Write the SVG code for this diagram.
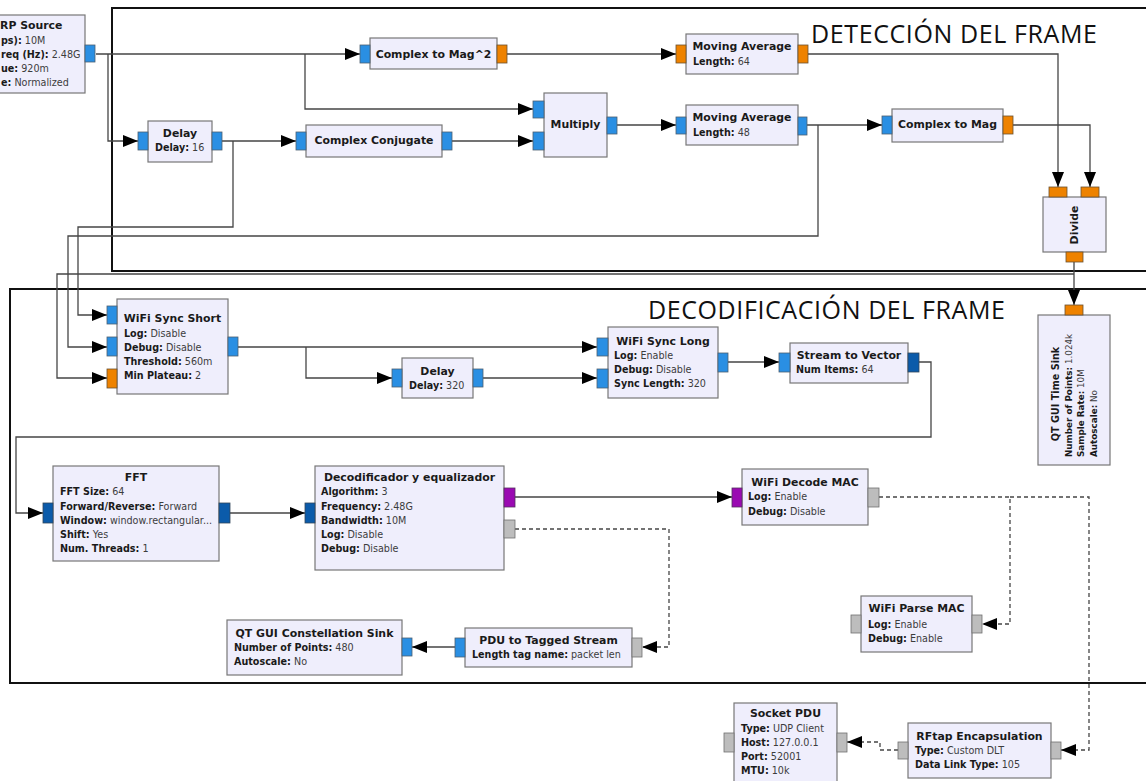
<svg xmlns="http://www.w3.org/2000/svg" width="1146" height="781" viewBox="0 0 1146 781">
<defs>
<style>
.blk{fill:#EFEEFC;stroke:#777;stroke-width:1.2}
.pc{fill:#2A8FE3;stroke:#4d5f70;stroke-width:0.8}
.pf{fill:#EE8200;stroke:#6a5030;stroke-width:0.8}
.pv{fill:#0B5BAA;stroke:#33475a;stroke-width:0.8}
.pb{fill:#9A0AB2;stroke:#553060;stroke-width:0.8}
.pm{fill:#BDBDBD;stroke:#707070;stroke-width:0.8}
.h{font-family:"DejaVu Sans","Liberation Sans",sans-serif;font-size:10.9px;font-weight:bold;fill:#1a1a1a}
.t{font-family:"DejaVu Sans","Liberation Sans",sans-serif;font-size:9.6px;fill:#3c3c3c}
.ts{font-family:"DejaVu Sans","Liberation Sans",sans-serif;font-size:8.8px;fill:#3c3c3c}
.b{font-weight:bold;fill:#1a1a1a}
.m{text-anchor:middle}
.w{fill:none;stroke:#454545;stroke-width:1.3}
.d{stroke-dasharray:4,3}
.frame{fill:none;stroke:#111;stroke-width:2}
.hdr{font-family:"Open Sans","Liberation Sans",sans-serif;font-size:25px;fill:#111}
</style>
<marker id="ar" markerWidth="16" markerHeight="12" refX="15" refY="6" orient="auto" markerUnits="userSpaceOnUse">
<path d="M0,0 L15,6 L0,12 z" fill="#000"/>
</marker>
</defs>
<rect width="1146" height="781" fill="#fff"/>

<g id="frames">
<rect class="frame" x="112" y="8" width="1100" height="263"/>
<rect class="frame" x="10" y="289" width="1200" height="394"/>
<text class="hdr" x="811" y="43" textLength="286" lengthAdjust="spacing">DETECCIÓN DEL FRAME</text>
<text class="hdr" x="648" y="319" textLength="357" lengthAdjust="spacing">DECODIFICACIÓN DEL FRAME</text>
</g>

<g id="connectors">
<path class="w" d="M96,54 H360" marker-end="url(#ar)"/>
<path class="w" d="M108,54 V141 H138" marker-end="url(#ar)"/>
<path class="w" d="M305,54 V109 H533" marker-end="url(#ar)"/>
<path class="w" d="M222,141 H296" marker-end="url(#ar)"/>
<path class="w" d="M452,141 H533" marker-end="url(#ar)"/>
<path class="w" d="M507,54 H676" marker-end="url(#ar)"/>
<path class="w" d="M617,125 H676" marker-end="url(#ar)"/>
<path class="w" d="M807,125 H882" marker-end="url(#ar)"/>
<path class="w" d="M808,54 H1058 V187" marker-end="url(#ar)"/>
<path class="w" d="M1013,125 H1090 V187" marker-end="url(#ar)"/>
<path class="w" d="M1074,262 V305" marker-end="url(#ar)"/>
<path class="w" d="M233,141 V227 H78 V315 H107" marker-end="url(#ar)"/>
<path class="w" d="M818,125 V236 H68 V347 H107" marker-end="url(#ar)"/>
<path class="w" d="M1074,274 H57 V378 H107" marker-end="url(#ar)"/>
<path class="w" d="M238,347 H597" marker-end="url(#ar)"/>
<path class="w" d="M306,347 V378 H392" marker-end="url(#ar)"/>
<path class="w" d="M483,378 H597" marker-end="url(#ar)"/>
<path class="w" d="M728,362 H779" marker-end="url(#ar)"/>
<path class="w" d="M919,362 H931 V437 H16 V513 H43" marker-end="url(#ar)"/>
<path class="w" d="M230,513 H305" marker-end="url(#ar)"/>
<path class="w" d="M515,497 H732" marker-end="url(#ar)"/>
<path class="w d" d="M515,529 H669 V647 H642" marker-end="url(#ar)"/>
<path class="w" d="M455,647 H412" marker-end="url(#ar)"/>
<path class="w d" d="M879,497 H1010 V624 H982" marker-end="url(#ar)"/>
<path class="w d" d="M1010,497 H1089 V750 H1061" marker-end="url(#ar)"/>
<path class="w d" d="M898,750 H880 V742 H847" marker-end="url(#ar)"/>
</g>

<g id="usrp_source">
<rect class="blk" x="-80" y="15" width="165" height="78"/>
<rect class="pc" x="85" y="45" width="10" height="17"/>
<text class="h" x="0" y="29">RP Source</text>
<text class="t" x="1" y="44"><tspan class="b">ps):</tspan> 10M</text>
<text class="t" x="1" y="58"><tspan class="b">req (Hz):</tspan> 2.48G</text>
<text class="t" x="1" y="72"><tspan class="b">ue:</tspan> 920m</text>
<text class="t" x="1" y="86"><tspan class="b">e:</tspan> Normalized</text>
</g>

<g id="complex_to_mag2">
<rect class="blk" x="370" y="38" width="127" height="31"/>
<rect class="pc" x="360" y="45" width="10" height="18"/>
<rect class="pf" x="497" y="45" width="10" height="18"/>
<text class="h m" x="433.5" y="58">Complex to Mag^2</text>
</g>

<g id="moving_average_64">
<rect class="blk" x="686" y="34" width="112" height="40"/>
<rect class="pf" x="676" y="45" width="10" height="18"/>
<rect class="pf" x="798" y="45" width="10" height="18"/>
<text class="h m" x="742" y="50">Moving Average</text>
<text class="t" x="693" y="65"><tspan class="b">Length:</tspan> 64</text>
</g>

<g id="delay_16">
<rect class="blk" x="148" y="121" width="64" height="41"/>
<rect class="pc" x="138" y="132" width="10" height="18"/>
<rect class="pc" x="212" y="132" width="10" height="18"/>
<text class="h m" x="180" y="137">Delay</text>
<text class="t" x="155" y="151"><tspan class="b">Delay:</tspan> 16</text>
</g>

<g id="complex_conjugate">
<rect class="blk" x="306" y="125" width="136" height="32"/>
<rect class="pc" x="296" y="132" width="10" height="18"/>
<rect class="pc" x="442" y="132" width="10" height="18"/>
<text class="h m" x="374" y="144">Complex Conjugate</text>
</g>

<g id="multiply">
<rect class="blk" x="544" y="93" width="63" height="64"/>
<rect class="pc" x="533" y="101" width="11" height="17"/>
<rect class="pc" x="533" y="132" width="11" height="18"/>
<rect class="pc" x="607" y="117" width="10" height="17"/>
<text class="h m" x="575.5" y="128">Multiply</text>
</g>

<g id="moving_average_48">
<rect class="blk" x="686" y="105" width="112" height="40"/>
<rect class="pc" x="676" y="117" width="10" height="17"/>
<rect class="pc" x="798" y="117" width="9" height="18"/>
<text class="h m" x="742" y="121">Moving Average</text>
<text class="t" x="693" y="136"><tspan class="b">Length:</tspan> 48</text>
</g>

<g id="complex_to_mag">
<rect class="blk" x="892" y="109" width="111" height="33"/>
<rect class="pc" x="882" y="116" width="10" height="18"/>
<rect class="pf" x="1003" y="116" width="10" height="18"/>
<text class="h m" x="947.5" y="128">Complex to Mag</text>
</g>

<g id="divide">
<rect class="blk" x="1043" y="197" width="63" height="55"/>
<rect class="pf" x="1049" y="187" width="18" height="10"/>
<rect class="pf" x="1081" y="187" width="18" height="10"/>
<rect class="pf" x="1066" y="252" width="17" height="10"/>
<text class="h m" transform="translate(1078,225) rotate(-90)">Divide</text>
</g>

<g id="qt_gui_time_sink">
<rect class="blk" x="1038" y="315" width="72" height="150"/>
<rect class="pf" x="1065" y="305" width="18" height="10"/>
<text class="h m" style="font-size:9.7px" transform="translate(1059,394) rotate(-90)">QT GUI Time Sink</text>
<text class="ts" transform="translate(1072,457) rotate(-90)"><tspan class="b">Number of Points:</tspan> 1.024k</text>
<text class="ts" transform="translate(1084,457) rotate(-90)"><tspan class="b">Sample Rate:</tspan> 10M</text>
<text class="ts" transform="translate(1097,457) rotate(-90)"><tspan class="b">Autoscale:</tspan> No</text>
</g>

<g id="wifi_sync_short">
<rect class="blk" x="117" y="299" width="111" height="95"/>
<rect class="pc" x="107" y="306" width="10" height="18"/>
<rect class="pc" x="107" y="337" width="10" height="19"/>
<rect class="pf" x="107" y="369" width="10" height="19"/>
<rect class="pc" x="228" y="337" width="10" height="19"/>
<text class="h m" x="172.5" y="322">WiFi Sync Short</text>
<text class="t" x="124" y="337"><tspan class="b">Log:</tspan> Disable</text>
<text class="t" x="124" y="351"><tspan class="b">Debug:</tspan> Disable</text>
<text class="t" x="124" y="365"><tspan class="b">Threshold:</tspan> 560m</text>
<text class="t" x="124" y="379"><tspan class="b">Min Plateau:</tspan> 2</text>
</g>

<g id="delay_320">
<rect class="blk" x="402" y="358" width="71" height="40"/>
<rect class="pc" x="392" y="369" width="10" height="18"/>
<rect class="pc" x="473" y="369" width="10" height="18"/>
<text class="h m" x="437.5" y="375">Delay</text>
<text class="t" x="409" y="389"><tspan class="b">Delay:</tspan> 320</text>
</g>

<g id="wifi_sync_long">
<rect class="blk" x="608" y="327" width="110" height="71"/>
<rect class="pc" x="597" y="338" width="11" height="18"/>
<rect class="pc" x="597" y="369" width="11" height="19"/>
<rect class="pc" x="718" y="353" width="10" height="19"/>
<text class="h m" x="663" y="345">WiFi Sync Long</text>
<text class="t" x="614" y="359"><tspan class="b">Log:</tspan> Enable</text>
<text class="t" x="614" y="373"><tspan class="b">Debug:</tspan> Disable</text>
<text class="t" x="614" y="387"><tspan class="b">Sync Length:</tspan> 320</text>
</g>

<g id="stream_to_vector">
<rect class="blk" x="790" y="343" width="118" height="40"/>
<rect class="pc" x="779" y="353" width="11" height="19"/>
<rect class="pv" x="908" y="353" width="11" height="19"/>
<text class="h m" x="849" y="359">Stream to Vector</text>
<text class="t" x="796" y="373"><tspan class="b">Num Items:</tspan> 64</text>
</g>

<g id="fft">
<rect class="blk" x="53" y="466" width="166" height="95"/>
<rect class="pv" x="43" y="503" width="10" height="20"/>
<rect class="pv" x="219" y="503" width="11" height="20"/>
<text class="h m" x="136" y="481">FFT</text>
<text class="t" x="60" y="495"><tspan class="b">FFT Size:</tspan> 64</text>
<text class="t" x="60" y="510"><tspan class="b">Forward/Reverse:</tspan> Forward</text>
<text class="t" x="60" y="524"><tspan class="b">Window:</tspan> window.rectangular...</text>
<text class="t" x="60" y="538"><tspan class="b">Shift:</tspan> Yes</text>
<text class="t" x="60" y="552"><tspan class="b">Num. Threads:</tspan> 1</text>
</g>

<g id="decodificador_equalizador">
<rect class="blk" x="315" y="466" width="189" height="104"/>
<rect class="pv" x="305" y="503" width="10" height="20"/>
<rect class="pb" x="504" y="488" width="11" height="19"/>
<rect class="pm" x="504" y="520" width="11" height="18"/>
<text class="h m" x="409.5" y="481">Decodificador y equalizador</text>
<text class="t" x="321" y="495"><tspan class="b">Algorithm:</tspan> 3</text>
<text class="t" x="321" y="510"><tspan class="b">Frequency:</tspan> 2.48G</text>
<text class="t" x="321" y="524"><tspan class="b">Bandwidth:</tspan> 10M</text>
<text class="t" x="321" y="538"><tspan class="b">Log:</tspan> Disable</text>
<text class="t" x="321" y="552"><tspan class="b">Debug:</tspan> Disable</text>
</g>

<g id="wifi_decode_mac">
<rect class="blk" x="742" y="469" width="126" height="56"/>
<rect class="pb" x="732" y="488" width="10" height="19"/>
<rect class="pm" x="868" y="488" width="11" height="19"/>
<text class="h m" x="805" y="486">WiFi Decode MAC</text>
<text class="t" x="748" y="500"><tspan class="b">Log:</tspan> Enable</text>
<text class="t" x="748" y="515"><tspan class="b">Debug:</tspan> Disable</text>
</g>

<g id="wifi_parse_mac">
<rect class="blk" x="861" y="596" width="111" height="56"/>
<rect class="pm" x="851" y="615" width="10" height="18"/>
<rect class="pm" x="972" y="615" width="10" height="18"/>
<text class="h m" x="916.5" y="612">WiFi Parse MAC</text>
<text class="t" x="868" y="628"><tspan class="b">Log:</tspan> Enable</text>
<text class="t" x="868" y="642"><tspan class="b">Debug:</tspan> Enable</text>
</g>

<g id="pdu_to_tagged_stream">
<rect class="blk" x="465" y="628" width="167" height="39"/>
<rect class="pc" x="455" y="638" width="10" height="19"/>
<rect class="pm" x="632" y="638" width="10" height="19"/>
<text class="h m" x="548.5" y="644">PDU to Tagged Stream</text>
<text class="t" x="472" y="658"><tspan class="b">Length tag name:</tspan> packet len</text>
</g>

<g id="qt_gui_constellation_sink">
<rect class="blk" x="227" y="620" width="175" height="55"/>
<rect class="pc" x="402" y="638" width="10" height="18"/>
<text class="h m" x="314.5" y="637">QT GUI Constellation Sink</text>
<text class="t" x="234" y="651"><tspan class="b">Number of Points:</tspan> 480</text>
<text class="t" x="234" y="665"><tspan class="b">Autoscale:</tspan> No</text>
</g>

<g id="rftap_encapsulation">
<rect class="blk" x="908" y="723" width="143" height="55"/>
<rect class="pm" x="898" y="742" width="10" height="17"/>
<rect class="pm" x="1051" y="742" width="10" height="17"/>
<text class="h m" x="979.5" y="740">RFtap Encapsulation</text>
<text class="t" x="915" y="754"><tspan class="b">Type:</tspan> Custom DLT</text>
<text class="t" x="915" y="768"><tspan class="b">Data Link Type:</tspan> 105</text>
</g>

<g id="socket_pdu">
<rect class="blk" x="734" y="703" width="103" height="90"/>
<rect class="pm" x="724" y="733" width="10" height="19"/>
<rect class="pm" x="837" y="733" width="10" height="19"/>
<text class="h m" x="785.5" y="717">Socket PDU</text>
<text class="t" x="741" y="732"><tspan class="b">Type:</tspan> UDP Client</text>
<text class="t" x="741" y="746"><tspan class="b">Host:</tspan> 127.0.0.1</text>
<text class="t" x="741" y="760"><tspan class="b">Port:</tspan> 52001</text>
<text class="t" x="741" y="774"><tspan class="b">MTU:</tspan> 10k</text>
</g>
</svg>
